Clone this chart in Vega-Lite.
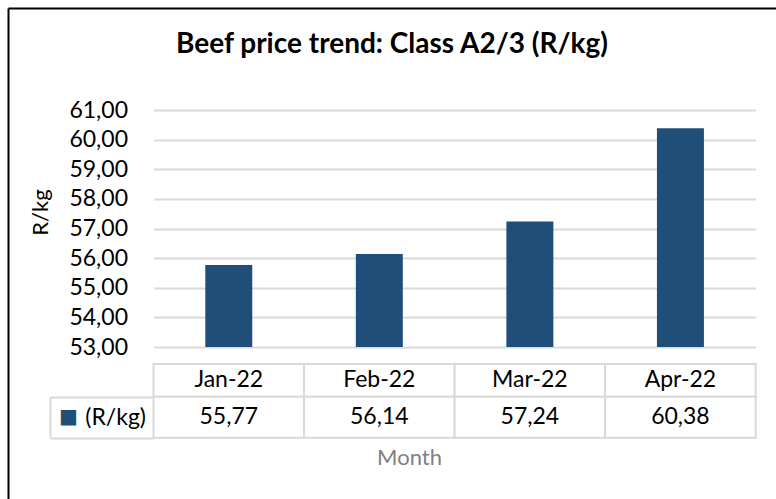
{
  "$schema": "https://vega.github.io/schema/vega-lite/v6.json",
  "width": 768,
  "height": 491,
  "autosize": {"type": "none"},
  "padding": {"left": 8, "top": 8, "right": 0, "bottom": 0},
  "background": "#FFFFFF",
  "config": {
    "font": "Lato",
    "view": {"stroke": null},
    "locale": {"number": {"decimal": ",", "thousands": " ", "grouping": [3], "currency": ["R", ""]}},
    "axis": {"labelFont": "Lato", "titleFont": "Lato"}
  },
  "title": {
    "text": "Beef price trend: Class A2/3 (R/kg)",
    "fontSize": 28,
    "fontWeight": "bold",
    "color": "#000000",
    "anchor": "middle",
    "frame": "group",
    "baseline": "alphabetic",
    "offset": -76
  },
  "data": {
    "values": [
      {"month": "Jan-22", "price": 55.77},
      {"month": "Feb-22", "price": 56.14},
      {"month": "Mar-22", "price": 57.24},
      {"month": "Apr-22", "price": 60.38}
    ]
  },
  "resolve": {
    "scale": {"x": "independent", "y": "independent"},
    "axis": {"x": "independent", "y": "independent"}
  },
  "layer": [
    {
      "mark": {"type": "point", "opacity": 0},
      "encoding": {
        "x": {"datum": 0, "type": "quantitative", "scale": {"domain": [0, 1], "range": [0, 768], "zero": false, "nice": false},
          "axis": {"orient": "top", "domain": true, "domainColor": "#000000", "domainWidth": 2, "labels": false, "ticks": false, "grid": false, "title": null}},
        "y": {"datum": 0, "type": "quantitative", "scale": {"domain": [0, 1], "range": [0, 491], "zero": false, "nice": false},
          "axis": {"orient": "left", "domain": true, "domainColor": "#000000", "domainWidth": 2, "labels": false, "ticks": false, "grid": false, "title": null}}
      }
    },
    {
      "mark": {"type": "bar", "color": "#1F4E79", "width": {"band": 0.312}},
      "encoding": {
        "x": {"field": "month", "type": "nominal", "sort": null,
          "scale": {"domain": ["Jan-22", "Feb-22", "Mar-22", "Apr-22"], "range": [145.5, 747.7], "paddingInner": 0, "paddingOuter": 0},
          "axis": {"orient": "bottom", "offset": -52, "domain": false, "ticks": false, "labels": false, "grid": false,
            "title": "Month", "titleFontSize": 22, "titleFontWeight": "normal", "titleColor": "#7F7F7F", "titlePadding": 0, "titleX": 401}},
        "y": {"field": "price", "type": "quantitative",
          "scale": {"domain": [53, 61], "range": [339, 102], "zero": false, "nice": false},
          "axis": {"orient": "left", "offset": -145.5, "values": [53, 54, 55, 56, 57, 58, 59, 60, 61], "format": ".2f",
            "grid": true, "gridColor": "#D9D9D9", "gridWidth": 2, "domain": false, "ticks": false,
            "labelPadding": 26, "labelFontSize": 23, "labelColor": "#000000",
            "title": "R/kg", "titleFontSize": 22, "titleFontWeight": "normal", "titleColor": "#000000", "titlePadding": 16, "titleY": 204}},
        "y2": {"datum": 53}
      }
    },
    {
      "mark": {"type": "rect", "fill": "#FFFFFF", "stroke": "#D9D9D9", "strokeWidth": 2},
      "encoding": {
        "x": {"field": "month", "type": "nominal", "sort": null,
          "scale": {"domain": ["Jan-22", "Feb-22", "Mar-22", "Apr-22"], "range": [145.5, 747.7], "paddingInner": 0, "paddingOuter": 0}, "axis": null},
        "y": {"datum": "hdr", "type": "nominal", "scale": {"domain": ["hdr"], "range": [356, 388.7], "paddingInner": 0, "paddingOuter": 0}, "axis": null}
      }
    },
    {
      "mark": {"type": "text", "fontSize": 23, "color": "#000000", "baseline": "middle"},
      "encoding": {
        "x": {"field": "month", "type": "nominal", "sort": null,
          "scale": {"domain": ["Jan-22", "Feb-22", "Mar-22", "Apr-22"], "range": [145.5, 747.7], "paddingInner": 0, "paddingOuter": 0}, "axis": null},
        "y": {"datum": "hdr", "type": "nominal", "scale": {"domain": ["hdr"], "range": [356, 388.7], "paddingInner": 0, "paddingOuter": 0}, "axis": null},
        "text": {"field": "month"}
      }
    },
    {
      "mark": {"type": "rect", "fill": "#FFFFFF", "stroke": "#D9D9D9", "strokeWidth": 2},
      "encoding": {
        "x": {"field": "month", "type": "nominal", "sort": null,
          "scale": {"domain": ["Jan-22", "Feb-22", "Mar-22", "Apr-22"], "range": [145.5, 747.7], "paddingInner": 0, "paddingOuter": 0}, "axis": null},
        "y": {"datum": "val", "type": "nominal", "scale": {"domain": ["val"], "range": [388.7, 429.7], "paddingInner": 0, "paddingOuter": 0},
          "axis": {"orient": "left", "offset": -42, "domain": true, "domainColor": "#D9D9D9", "domainWidth": 2,
            "ticks": true, "tickBand": "extent", "tickSize": -103.5, "tickColor": "#D9D9D9", "tickWidth": 2,
            "labels": false, "grid": false, "title": null}}
      }
    },
    {
      "mark": {"type": "text", "fontSize": 23, "color": "#000000", "baseline": "middle"},
      "encoding": {
        "x": {"field": "month", "type": "nominal", "sort": null,
          "scale": {"domain": ["Jan-22", "Feb-22", "Mar-22", "Apr-22"], "range": [145.5, 747.7], "paddingInner": 0, "paddingOuter": 0}, "axis": null},
        "y": {"datum": "val", "type": "nominal", "scale": {"domain": ["val"], "range": [388.7, 429.7], "paddingInner": 0, "paddingOuter": 0},
          "axis": {"orient": "left", "offset": -145.5, "domain": false, "ticks": false, "grid": false, "title": null,
            "labelExpr": "'(R/kg)'", "labelPadding": 8, "labelFontSize": 23, "labelColor": "#000000"}},
        "text": {"field": "price", "format": ".2f"}
      }
    },
    {
      "mark": {"type": "rect", "opacity": 0},
      "encoding": {
        "x": {"field": "month", "type": "nominal", "sort": null,
          "scale": {"domain": ["Jan-22", "Feb-22", "Mar-22", "Apr-22"], "range": [145.5, 747.7], "paddingInner": 0, "paddingOuter": 0}, "axis": null},
        "y": {"datum": "val", "type": "nominal", "scale": {"domain": ["val"], "range": [388.7, 429.7], "paddingInner": 0, "paddingOuter": 0},
          "axis": {"orient": "left", "offset": -145.5, "domain": false, "ticks": false, "grid": false, "title": null,
            "labelExpr": "'■'", "labelFont": "DejaVu Sans", "labelPadding": 76, "labelFontSize": 20, "labelColor": "#1F4E79"}}
      }
    }
  ]
}
